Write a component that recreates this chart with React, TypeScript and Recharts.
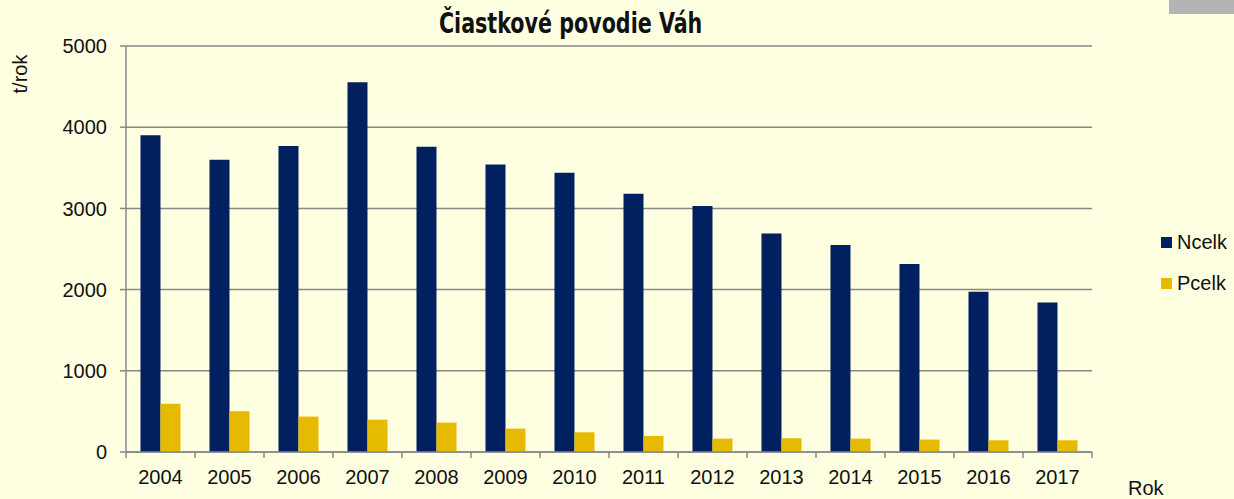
import { BarChart, Bar, XAxis, YAxis, CartesianGrid } from 'recharts';

const years = ['2004', '2005', '2006', '2007', '2008', '2009', '2010', '2011', '2012', '2013', '2014', '2015', '2016', '2017'];
const ncelk = [3900, 3600, 3770, 4555, 3760, 3540, 3440, 3180, 3030, 2690, 2550, 2315, 1975, 1840];
const pcelk = [595, 502, 436, 399, 362, 288, 243, 197, 165, 169, 165, 153, 144, 144];
const yTicks = [0, 1000, 2000, 3000, 4000, 5000];
const seriesNames = ['Ncelk', 'Pcelk'];
const seriesColors = ['#00205F', '#E5BA00'];

const data = years.map((year, i) => ({ year, Ncelk: ncelk[i], Pcelk: pcelk[i] }));

const W = 1234;
const H = 499;
const PLOT_LEFT = 126;
const PLOT_RIGHT = 1092;
const HALF_BAND = (PLOT_RIGHT - PLOT_LEFT) / years.length / 2;
const FONT = "'Liberation Sans', Arial, sans-serif";
const FS = 20;
const X_TICK_SIZE = 6;
const X_TICK_MARGIN = 12;

// tick labels with the little tick marks between categories, like Excel
const YearTick = (props: any) => {
  const { x, y, payload, index } = props;
  const axisY = y - X_TICK_SIZE - X_TICK_MARGIN;
  return (
    <g>
      <line x1={x - HALF_BAND} y1={axisY} x2={x - HALF_BAND} y2={axisY + X_TICK_SIZE} stroke="#888" strokeWidth={1.5} />
      {index === years.length - 1 && (
        <line x1={x + HALF_BAND} y1={axisY} x2={x + HALF_BAND} y2={axisY + X_TICK_SIZE} stroke="#888" strokeWidth={1.5} />
      )}
      <text x={x} y={y} dy="0.71em" textAnchor="middle" fill="#111" fontSize={FS} fontFamily={FONT}>
        {payload.value}
      </text>
    </g>
  );
};

export default function App() {
  return (
    <div style={{ position: 'absolute', left: 0, top: 0, width: W, height: H, background: '#FFFFE1', overflow: 'hidden' }}>
      <div style={{ position: 'absolute', left: 1169, top: 0, width: 65, height: 14, background: '#b4b4b4' }} />
      <div
        style={{
          position: 'absolute',
          left: 0,
          width: 1142,
          top: 6,
          textAlign: 'center',
          fontFamily: "'DejaVu Sans Condensed', 'DejaVu Sans', sans-serif",
          fontStretch: 'condensed',
          fontWeight: 'bold',
          fontSize: 28,
          color: '#111',
          lineHeight: '36px',
        }}
      >
        <span style={{ display: 'inline-block', transform: 'scaleX(0.82)' }}>Čiastkové povodie Váh</span>
      </div>
      <div
        style={{
          position: 'absolute',
          left: 20,
          top: 74,
          transform: 'translate(-50%, -50%) rotate(-90deg)',
          fontFamily: FONT,
          fontSize: FS,
          color: '#111',
          whiteSpace: 'nowrap',
        }}
      >
        t/rok
      </div>
      <div style={{ position: 'absolute', left: 1128, top: 477, fontFamily: FONT, fontSize: FS, color: '#111' }}>Rok</div>
      <div style={{ position: 'absolute', left: 1161, top: 222, fontFamily: FONT, fontSize: FS, color: '#111' }}>
        {seriesNames.map((name, i) => (
          <div key={name} style={{ display: 'flex', alignItems: 'center', height: 41 }}>
            <span style={{ width: 11, height: 11, background: seriesColors[i], display: 'inline-block', marginRight: 5 }} />
            {name}
          </div>
        ))}
      </div>
      <BarChart
        width={W}
        height={H}
        data={data}
        margin={{ top: 46, right: W - PLOT_RIGHT, bottom: 0, left: 0 }}
        barCategoryGap="21%"
        barGap={0}
        style={{ position: 'absolute', left: 0, top: 0 }}
      >
        <CartesianGrid vertical={false} stroke="#888" strokeWidth={1.5} />
        <XAxis
          dataKey="year"
          height={47}
          interval={0}
          tick={<YearTick />}
          tickLine={false}
          tickSize={X_TICK_SIZE}
          tickMargin={X_TICK_MARGIN}
          axisLine={{ stroke: '#888', strokeWidth: 1.5 }}
        />
        <YAxis
          width={PLOT_LEFT}
          domain={[0, 5000]}
          ticks={yTicks}
          interval={0}
          tickSize={6}
          tickMargin={13}
          tick={{ fill: '#111', fontSize: FS, fontFamily: FONT }}
          tickLine={{ stroke: '#888', strokeWidth: 1.5 }}
          axisLine={{ stroke: '#888', strokeWidth: 1.5 }}
        />
        {seriesNames.map((name, i) => (
          <Bar key={name} dataKey={name} fill={seriesColors[i]} isAnimationActive={false} />
        ))}
      </BarChart>
    </div>
  );
}
